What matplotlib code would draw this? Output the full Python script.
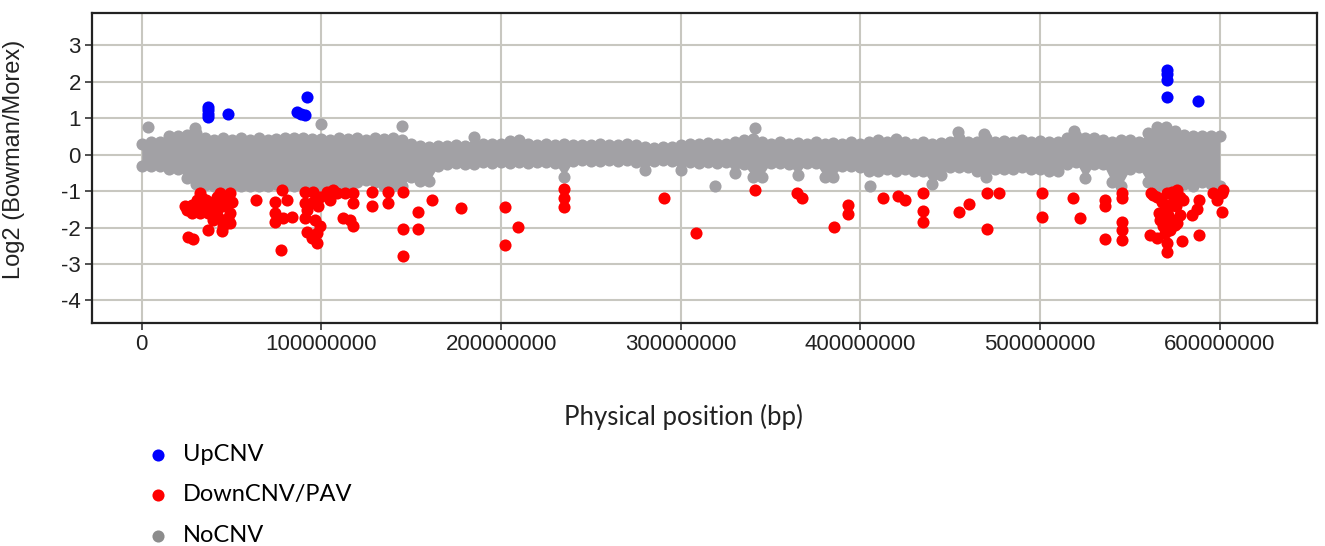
import numpy as np
import matplotlib
matplotlib.use("Agg")
import matplotlib.pyplot as plt

plt.rcParams['axes.unicode_minus'] = False

# NoCNV band: column positions (Mbp) with top / bottom dot
nocnv_pos = [0, 5, 10, 15, 20, 25, 30, 35, 40, 45, 50, 55, 60, 65, 70, 75, 80, 85, 90, 95,
             100, 105, 110, 115, 120, 125, 130, 135, 140, 145, 150, 155, 160, 165, 170, 175, 180, 185, 190, 195,
             200, 205, 210, 215, 220, 225, 230, 235, 240, 245, 250, 255, 260, 265, 270, 275, 280, 285, 290, 295,
             300, 305, 310, 315, 320, 325, 330, 335, 340, 345, 350, 355, 360, 365, 370, 375, 380, 385, 390, 395,
             400, 405, 410, 415, 420, 425, 430, 435, 440, 445, 450, 455, 460, 465, 470, 475, 480, 485, 490, 495,
             500, 505, 510, 515, 520, 525, 530, 535, 540, 545, 550, 555, 560, 565, 570, 575, 580, 585, 590, 595,
             600]
nocnv_hi = [0.30, 0.35, 0.35, 0.50, 0.50, 0.55, 0.60, 0.45, 0.40, 0.45, 0.40, 0.45, 0.40, 0.45, 0.40, 0.42, 0.45, 0.45, 0.45, 0.42,
            0.42, 0.40, 0.45, 0.42, 0.45, 0.40, 0.45, 0.42, 0.45, 0.40, 0.30, 0.25, 0.22, 0.25, 0.25, 0.28, 0.25, 0.48, 0.30, 0.30,
            0.30, 0.38, 0.40, 0.30, 0.28, 0.30, 0.28, 0.30, 0.27, 0.27, 0.28, 0.30, 0.28, 0.27, 0.30, 0.28, 0.20, 0.18, 0.20, 0.20,
            0.28, 0.30, 0.30, 0.32, 0.30, 0.30, 0.35, 0.40, 0.42, 0.35, 0.30, 0.35, 0.30, 0.32, 0.30, 0.35, 0.30, 0.32, 0.30, 0.35,
            0.30, 0.35, 0.40, 0.35, 0.42, 0.35, 0.30, 0.35, 0.30, 0.32, 0.35, 0.45, 0.35, 0.35, 0.45, 0.35, 0.38, 0.35, 0.40, 0.35,
            0.38, 0.35, 0.35, 0.45, 0.50, 0.45, 0.45, 0.40, 0.35, 0.40, 0.40, 0.35, 0.60, 0.75, 0.75, 0.65, 0.55, 0.50, 0.50, 0.50,
            0.50]
nocnv_lo = [-0.30, -0.30, -0.32, -0.38, -0.40, -0.65, -0.80, -0.82, -0.85, -0.85, -0.85, -0.85, -0.85, -0.85, -0.85, -0.80, -0.85, -0.85, -0.85, -0.85,
            -0.85, -0.85, -0.85, -0.85, -0.75, -0.70, -0.75, -0.85, -0.85, -0.85, -0.60, -0.72, -0.72, -0.30, -0.25, -0.22, -0.25, -0.25, -0.20, -0.22,
            -0.20, -0.22, -0.20, -0.22, -0.20, -0.20, -0.22, -0.60, -0.18, -0.15, -0.18, -0.17, -0.15, -0.17, -0.15, -0.20, -0.43, -0.17, -0.15, -0.17,
            -0.43, -0.20, -0.22, -0.20, -0.22, -0.20, -0.50, -0.25, -0.60, -0.60, -0.22, -0.22, -0.25, -0.55, -0.22, -0.22, -0.60, -0.60, -0.30, -0.30,
            -0.35, -0.45, -0.45, -0.40, -0.45, -0.40, -0.45, -0.45, -0.80, -0.55, -0.35, -0.35, -0.35, -0.45, -0.60, -0.40, -0.40, -0.40, -0.35, -0.40,
            -0.40, -0.45, -0.45, -0.25, -0.20, -0.65, -0.25, -0.25, -0.75, -0.85, -0.40, -0.35, -0.75, -0.85, -0.85, -0.85, -0.80, -0.85, -0.75, -0.80,
            -0.85]
# isolated NoCNV dots outside the band
nocnv_out = [(3.7, 0.76), (29.7, 0.72), (99.5, 0.85), (144.7, 0.80), (319.0, -0.86), (341.5, 0.74),
             (405.4, -0.86), (454.5, 0.62), (469.0, 0.58), (519.0, 0.65)]

up_pts = [(37.1, 1.03), (37.1, 1.12), (37.1, 1.22), (37.1, 1.32), (47.8, 1.12), (86.2, 1.18), (88.5, 1.13),
          (91.0, 1.09), (91.8, 1.59), (570.4, 2.32), (570.4, 2.22), (570.4, 2.05), (570.4, 1.58), (588.0, 1.47)]

down_pts = [
    (24.0, -1.40), (25.0, -1.52), (25.9, -2.25), (26.5, -1.45), (27.8, -1.38), (27.8, -1.61), (28.7, -2.32),
    (29.5, -1.47), (30.6, -1.24), (31.5, -1.45), (32.4, -1.06), (32.4, -1.61), (33.5, -1.20), (34.3, -1.33),
    (35.0, -1.50), (36.0, -1.25), (37.1, -1.42), (37.1, -1.61), (37.1, -2.06), (39.9, -1.29), (39.9, -1.79),
    (40.5, -1.35), (41.7, -1.15), (41.7, -1.52), (42.6, -1.70), (43.5, -1.06), (44.4, -1.42), (44.4, -2.10),
    (45.4, -1.24), (45.4, -1.84), (45.4, -1.97), (46.5, -1.35), (48.2, -1.75), (49.1, -1.06), (49.1, -1.61),
    (49.1, -1.88), (50.0, -1.29),
    (63.6, -1.24), (74.1, -1.29), (74.1, -1.61), (74.1, -1.84), (77.9, -0.97), (77.5, -2.61), (78.8, -1.75),
    (80.7, -1.25), (83.4, -1.70), (90.9, -1.01), (90.9, -1.33), (90.9, -1.75), (91.8, -1.52), (91.8, -2.11),
    (94.6, -2.29), (95.5, -1.01), (95.5, -1.29), (96.4, -1.79), (97.4, -2.16), (97.4, -2.43), (98.3, -1.42),
    (99.2, -1.15), (99.2, -1.97), (102.9, -1.01), (104.7, -1.24), (106.6, -0.97), (108.5, -1.06), (112.2, -1.75),
    (113.1, -1.06), (115.9, -1.79), (117.4, -1.33), (117.8, -1.06), (117.8, -1.97), (128.0, -1.01), (128.0, -1.42),
    (137.3, -1.01), (137.3, -1.33), (145.6, -1.03), (145.6, -2.04), (145.6, -2.77), (153.9, -1.56), (153.9, -2.04),
    (161.3, -1.24),
    (177.5, -1.47), (202.2, -1.43), (202.2, -2.49), (209.2, -1.99), (235.2, -0.95), (235.2, -1.20), (235.2, -1.43),
    (290.8, -1.20), (308.5, -2.16), (341.3, -0.97), (364.5, -1.06), (367.6, -1.20), (385.3, -1.99), (393.2, -1.39),
    (393.2, -1.63), (412.4, -1.20),
    (421.0, -1.14), (424.8, -1.24), (434.6, -1.06), (434.6, -1.54), (434.6, -1.86), (454.8, -1.58), (460.6, -1.35),
    (470.2, -1.04), (470.2, -2.05), (477.2, -1.04), (500.8, -1.04), (500.8, -1.70), (518.4, -1.20), (522.1, -1.75),
    (536.1, -1.24), (536.1, -1.42), (536.1, -2.32), (545.7, -1.06), (545.7, -1.20), (545.7, -1.86), (545.7, -2.06),
    (545.7, -2.35),
    (561.5, -1.04), (561.1, -2.20), (563.0, -1.10), (564.8, -1.15), (564.8, -2.29), (566.0, -1.60), (566.7, -1.79),
    (567.6, -1.29), (568.5, -1.97), (569.5, -1.52), (569.5, -2.16), (570.4, -1.06), (570.4, -1.84), (570.4, -2.43),
    (570.4, -2.66), (571.3, -1.66), (572.2, -1.42), (572.2, -2.06), (573.2, -1.01), (573.2, -1.79), (574.1, -1.29),
    (575.0, -1.93), (575.5, -1.40), (576.0, -0.97), (576.0, -1.88), (577.8, -1.15), (578.0, -1.65), (578.7, -2.36),
    (579.6, -1.24), (584.3, -1.66), (587.1, -1.50), (588.5, -1.24), (588.5, -2.20), (596.3, -1.06), (598.2, -1.24),
    (601.0, -1.06), (601.0, -1.56), (601.9, -0.97),
]

xticks = [0, 100000000, 200000000, 300000000, 400000000, 500000000, 600000000]
yticks = [-4, -3, -2, -1, 0, 1, 2, 3]

grey = '#a2a1a5'
dot = 76  # marker area, pt^2

fig = plt.figure(figsize=(13.25, 5.46), dpi=100)
ax = fig.add_axes([0.0694, 0.409, 0.9243, 0.5666])

# grey band: fill between the outermost dots, then the dots themselves give the bumpy edge
pos = np.array(nocnv_pos) * 1e6
ax.fill_between(pos, nocnv_lo, nocnv_hi, color=grey, linewidth=0, zorder=2)
ax.scatter(pos, nocnv_hi, s=dot, color=grey, linewidths=0, zorder=2)
ax.scatter(pos, nocnv_lo, s=dot, color=grey, linewidths=0, zorder=2)
out = np.array(nocnv_out)
ax.scatter(out[:, 0] * 1e6, out[:, 1], s=dot, color=grey, linewidths=0, zorder=2)

down = np.array(down_pts)
h_down = ax.scatter(down[:, 0] * 1e6, down[:, 1], s=dot, color='#ff0000', linewidths=0, zorder=3)
up = np.array(up_pts)
h_up = ax.scatter(up[:, 0] * 1e6, up[:, 1], s=dot, color='#0000ff', linewidths=0, zorder=4)
h_no = ax.scatter([], [], s=dot, color='#8c8c8c', linewidths=0)

ax.set_xlim(-27.7e6, 653.9e6)
ax.set_ylim(-4.61, 3.88)
ax.set_xticks(xticks)
ax.set_xticklabels([str(t) for t in xticks])
ax.set_yticks(yticks)
ax.set_yticklabels([str(t) for t in yticks])
ax.grid(True, color='#c8c7c0', linewidth=1.5, zorder=0)
ax.set_axisbelow(True)
for sp in ax.spines.values():
    sp.set_linewidth(1.6)
    sp.set_color('#222222')
ax.tick_params(direction='out', length=5, width=1.2, color='#333333', pad=3,
               labelsize=16, labelcolor='#222222')
for lab in ax.get_xticklabels() + ax.get_yticklabels():
    lab.set_family('Liberation Sans')

ax.set_ylabel('Log2 (Bowman/Morex)', family='Liberation Sans', fontsize=17, color='#222222')
ax.yaxis.set_label_coords(-0.0547, 0.529)
ax.set_xlabel('Physical position (bp)', family='Lato', fontsize=18.5, color='#222222')
ax.xaxis.set_label_coords(0.4826, -0.262)

fig.legend([h_up, h_down, h_no], ['UpCNV', 'DownCNV/PAV', 'NoCNV'],
           loc='upper left', bbox_to_anchor=(0.1122, 0.187), frameon=False,
           prop={'family': 'Lato', 'size': 17}, handlelength=0.8, handletextpad=0.66,
           labelspacing=0.83, borderpad=0, borderaxespad=0)

fig.savefig('out.png', dpi=100)
